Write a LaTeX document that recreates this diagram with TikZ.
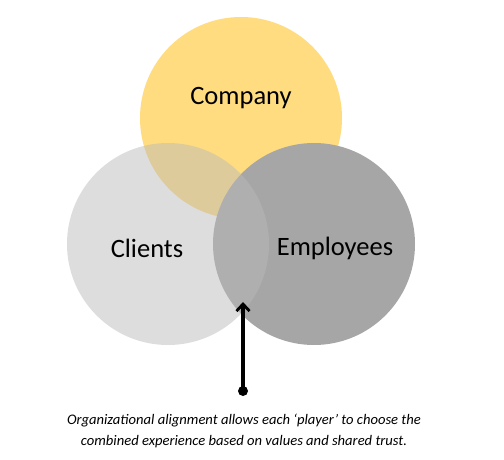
\documentclass[tikz,border=0pt]{standalone}
\usepackage{fontspec}
\setmainfont{Carlito}
\usetikzlibrary{arrows.meta}
\definecolor{compy}{RGB}{255,220,128}
\definecolor{empl}{RGB}{166,166,166}
\definecolor{clnt}{RGB}{186,186,186}
\tikzset{
  lbl/.style={font=\fontsize{26.5}{30}\selectfont, text=black},
  captxt/.style={font=\itshape\fontsize{14.6}{21}\selectfont, align=center, text=black, inner sep=0pt},
}
\begin{document}
\begin{tikzpicture}[x=1pt,y=-1pt]
\useasboundingbox (0,0) rectangle (504,460);
\fill[white] (0,0) rectangle (504,460);
\fill[compy] (241,118) circle (101);
\fill[empl] (314,244) circle (101);
\fill[clnt, fill opacity=0.483] (168,244) circle (101);
\node[lbl] (company) at (241,98) {Company};
\node[lbl] (clients) at (147,248) {Clients};
\node[lbl] (employees) at (335,248) {Employees};
\coordinate (tip) at (243,302);
\node[circle, fill=black, inner sep=0pt, minimum size=10pt] (dot) at (243,391) {};
\draw[line width=3.2pt, -{Straight Barb[length=7pt,width=13pt,line width=2.8pt]}] (dot.center) -- (tip);
\node[captxt] (caption) at (244,431) {Organizational alignment allows each ‘player’ to choose the\\combined experience based on values and shared trust.};
\end{tikzpicture}
\end{document}
